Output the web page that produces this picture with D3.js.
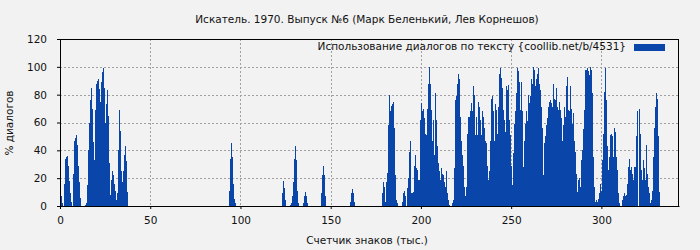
<!DOCTYPE html>
<html>
<head>
<meta charset="utf-8">
<script src="https://d3js.org/d3.v7.min.js"></script>
<style>
  body { margin: 0; background: #f2f2f2; }
  svg { display: block; font-family: "DejaVu Sans", sans-serif; }
</style>
</head>
<body>
<svg id="chart" width="700" height="250"></svg>
<script>
const title = "Искатель. 1970. Выпуск №6 (Марк Беленький, Лев Корнешов)";
const seriesName = "Использование диалогов по тексту {coollib.net/b/4531}";
const xLabel = "Счетчик знаков (тыс.)";
const yLabel = "% диалогов";
const xTicks = [0, 50, 100, 150, 200, 250, 300];
const yTicks = [0, 20, 40, 60, 80, 100, 120];

// one bar per ~0.55 thousand characters
const step = 0.5546;
// first bar index of each run of non-empty bars
const segStart = [0, 24, 168, 221, 229, 242, 260, 289, 321];
const segValues = [
  [7, 2, 0, 16, 34, 35, 36, 29, 18, 9, 3, 0, 23, 47, 49, 51, 44, 29, 17, 6],
  [1, 2.5, 15, 40, 60, 76, 85, 70, 46, 33, 69, 88, 90, 91, 84, 75, 89, 96, 99, 85,
   60, 73, 83, 65, 31, 8, 19, 25, 22, 16, 11, 4, 9, 40, 69, 54, 25, 17, 25, 37, 43, 32, 10],
  [11, 34, 45, 35, 16, 5, 2],
  [9, 18, 13, 4],
  [1, 2, 7, 17, 34, 43, 33, 11, 2],
  [2, 7, 10, 7, 2],
  [9, 22, 29, 22, 7],
  [3, 9, 12, 9, 3],
  [9, 17, 14, 3, 17, 24, 58, 80, 68, 72, 73, 75, 56, 22, 4, 2,
   0, 0, 0, 0,
   3, 9, 11, 7, 0, 13, 20, 39, 47, 9, 9, 10, 29, 37, 27, 26, 19, 19, 62, 74,
   68, 70, 63, 52, 51, 70, 88, 100, 88, 69, 47, 62, 37, 81, 62, 43, 31, 25, 19, 27,
   23, 22, 17, 14, 25, 9, 4, 1,
   0, 0, 2, 4, 27, 76, 79, 88, 95, 91, 64, 47, 37, 29, 14, 7, 14, 52, 64, 64,
   68, 74, 68, 86, 80, 51, 64, 51, 75, 71, 62, 51, 68, 64, 56, 47, 45, 29, 19, 25,
   47, 77, 79, 68, 47, 73, 69, 52, 71, 95, 99, 92, 85, 69, 62, 53, 86, 83, 87, 62,
   51, 29, 15, 38, 59, 68, 81, 99, 97, 89,
   69, 89, 68, 28, 47, 59, 68, 61, 80, 74, 79, 91, 88, 100, 98, 86, 91, 95, 99, 88,
   83, 71, 56, 22, 45, 50, 58, 63, 71, 75, 76, 74, 71, 88, 77, 76, 85, 71, 69, 75,
   69, 63, 47, 58, 71, 64, 86, 93, 69, 68, 86, 70, 59, 67, 47, 39, 23, 10, 19, 20,
   14, 33, 40, 55, 69, 98, 98, 99, 97, 94,
   100, 98, 81, 35, 14, 3, 4, 3, 5, 9, 16, 11, 33, 52, 82, 99, 76, 43, 26, 35,
   51, 52, 50, 35, 56, 53, 35, 26, 9, 2, 0, 0, 4, 7, 9, 7, 8, 16, 28, 34,
   26, 28, 23, 19, 28, 28, 50, 68, 70, 52, 26, 19, 33, 27, 19, 44, 23, 14, 9, 2,
   4, 11, 35, 56, 71, 81, 77, 50, 10]
];

const barColor = "#0a46a9";
const fontSize = 10.5;
const svg = d3.select("#chart");
const plotLeft = 60, plotRight = 679, plotTop = 39, plotBottom = 206;

const bars = [];
segStart.forEach((s, n) => {
  segValues[n].forEach((v, j) => bars.push({ k: (s + j) * step, v }));
});

const x = d3.scaleLinear().domain([0, 343]).range([plotLeft, plotRight]);
const y = d3.scaleLinear().domain([0, 120]).range([plotBottom, plotTop]);

// grid
const grid = svg.append("g")
  .attr("stroke", "#a0a0a0")
  .attr("stroke-dasharray", "2,2");
grid.selectAll("line.gx")
  .data(xTicks.filter(d => d > 0))
  .join("line")
  .attr("x1", d => Math.round(x(d)) + 0.5)
  .attr("x2", d => Math.round(x(d)) + 0.5)
  .attr("y1", plotTop)
  .attr("y2", plotBottom);
grid.selectAll("line.gy")
  .data(yTicks.filter(d => d > 0 && d < 120))
  .join("line")
  .attr("x1", plotLeft)
  .attr("x2", plotRight)
  .attr("y1", d => Math.round(y(d)) + 0.5)
  .attr("y2", d => Math.round(y(d)) + 0.5);

// bars, shifted one pixel to clear the axis line
svg.append("g")
  .attr("shape-rendering", "crispEdges")
  .selectAll("rect")
  .data(bars.filter(d => d.v > 0))
  .join("rect")
  .attr("x", d => Math.round(x(d.k)) + 1)
  .attr("width", Math.max(1, x(step) - x(0)))
  .attr("y", d => y(d.v))
  .attr("height", d => plotBottom - y(d.v))
  .attr("fill", barColor);

// frame
svg.append("rect")
  .attr("x", plotLeft + 0.5)
  .attr("y", plotTop + 0.5)
  .attr("width", plotRight - plotLeft - 1)
  .attr("height", plotBottom - plotTop)
  .attr("fill", "none")
  .attr("stroke", "#000");

const gx = svg.append("g")
  .attr("transform", `translate(0,${plotBottom})`)
  .call(d3.axisBottom(x).tickValues(xTicks).tickSize(3).tickSizeOuter(0).tickPadding(8));
const gy = svg.append("g")
  .attr("transform", `translate(${plotLeft},0)`)
  .call(d3.axisLeft(y).tickValues(yTicks).tickSize(3).tickSizeOuter(0).tickPadding(10));
[gx, gy].forEach(g => {
  g.selectAll("text").attr("font-size", fontSize).attr("font-family", "DejaVu Sans").attr("fill", "#111");
  g.select(".domain").attr("stroke", "#000");
});

svg.append("text")
  .attr("x", 367).attr("y", 23)
  .attr("text-anchor", "middle")
  .attr("font-size", fontSize)
  .attr("fill", "#111")
  .text(title);

svg.append("text")
  .attr("x", 367).attr("y", 244)
  .attr("text-anchor", "middle")
  .attr("font-size", fontSize)
  .attr("fill", "#111")
  .text(xLabel);

svg.append("text")
  .attr("transform", "translate(13,123) rotate(-90)")
  .attr("text-anchor", "middle")
  .attr("font-size", fontSize)
  .attr("fill", "#111")
  .text(yLabel);

// legend
svg.append("text")
  .attr("x", 626).attr("y", 50)
  .attr("text-anchor", "end")
  .attr("font-size", fontSize)
  .attr("fill", "#111")
  .text(seriesName);
svg.append("rect")
  .attr("x", 634).attr("y", 44)
  .attr("width", 31).attr("height", 7)
  .attr("fill", barColor);
</script>
</body>
</html>
